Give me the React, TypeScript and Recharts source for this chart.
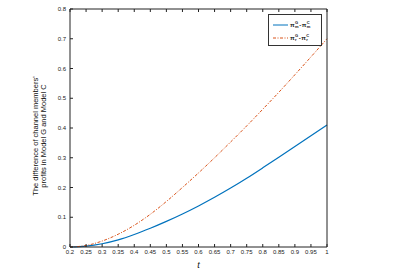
import React from 'react';
import { LineChart, Line, XAxis, YAxis } from 'recharts';

const tValues = [0.2, 0.25, 0.3, 0.35, 0.4, 0.45, 0.5, 0.55, 0.6, 0.65, 0.7, 0.75, 0.8, 0.85, 0.9, 0.95, 1];
const manufacturerDiff = [0, 0.003, 0.011, 0.024, 0.042, 0.063, 0.086, 0.111, 0.138, 0.167, 0.198, 0.231, 0.266, 0.302, 0.338, 0.374, 0.41];
const retailerDiff = [0, 0.005, 0.02, 0.043, 0.073, 0.11, 0.153, 0.2, 0.249, 0.3, 0.353, 0.407, 0.463, 0.52, 0.579, 0.639, 0.7];
const xTicks = [0.2, 0.25, 0.3, 0.35, 0.4, 0.45, 0.5, 0.55, 0.6, 0.65, 0.7, 0.75, 0.8, 0.85, 0.9, 0.95, 1];
const yTicks = [0, 0.1, 0.2, 0.3, 0.4, 0.5, 0.6, 0.7, 0.8];

const data = tValues.map((t, i) => ({ t, m: manufacturerDiff[i], r: retailerDiff[i] }));

const FONT = '"Liberation Sans", Arial, sans-serif';
const tickStyle = { fontSize: 6, fill: '#222', fontFamily: FONT };

const PiTerm = ({ sup, sub }: { sup: string; sub: string }) => (
  <span style={{ display: 'inline-flex', alignItems: 'center' }}>
    <span>π</span>
    <span style={{ display: 'inline-flex', flexDirection: 'column', fontSize: 4, lineHeight: '4px', marginLeft: 0.5 }}>
      <span>{sup}</span>
      <span>{sub}</span>
    </span>
  </span>
);

const legendRows = [
  { key: 'm', color: '#0072BD', dash: undefined },
  { key: 'r', color: '#D95319', dash: '3 1.5 1 1.5' },
];

const LegendBox = () => (
  <div style={{
    position: 'absolute', left: 268, top: 14,
    border: '1px solid #333', background: '#fff', width: 54, height: 32, boxSizing: 'border-box',
    fontFamily: FONT, fontSize: 6, fontWeight: 'bold', color: '#111', padding: '3px 0 0 4px',
  }}>
    {legendRows.map(row => (
      <div key={row.key} style={{ display: 'flex', alignItems: 'center', height: 13 }}>
        <svg width={15} height={4} style={{ marginRight: 2 }}>
          <line x1={0} y1={2} x2={15} y2={2} stroke={row.color} strokeWidth={1} strokeDasharray={row.dash} />
        </svg>
        <PiTerm sup="G" sub={row.key} />
        <span style={{ margin: '0 0.5px' }}>-</span>
        <PiTerm sup="C" sub={row.key} />
      </div>
    ))}
  </div>
);

const YLabel = (props: any) => {
  const { viewBox } = props;
  const cy = viewBox.y + viewBox.height / 2 + 8;
  return (
    <text transform={`translate(37.5, ${cy}) rotate(-90)`} textAnchor="middle" fontSize={7.5} fontFamily={FONT} fill="#111">
      <tspan x={0} dy={0}>The difference of channel members'</tspan>
      <tspan x={0} dy={8.5}>profits in Model G and  Model C</tspan>
    </text>
  );
};

export default function App() {
  return (
    <div style={{ position: 'absolute', left: 0, top: 0, width: 398, height: 272, background: '#fff' }}>
      <LineChart width={398} height={272} data={data} margin={{ top: 8, right: 70, left: 69, bottom: 24 }}>
        <XAxis
          dataKey="t" type="number" domain={[0.2, 1]} ticks={xTicks} xAxisId="b"
          height={1} tickSize={-3} tickMargin={6} tick={tickStyle}
          axisLine={{ stroke: '#222' }} tickLine={{ stroke: '#222' }} interval={0}
          label={{ value: 't', position: 'insideBottom', offset: -20, fontSize: 9, fontStyle: 'italic', fontFamily: FONT, fill: '#111' }}
        />
        <XAxis
          dataKey="t" type="number" domain={[0.2, 1]} ticks={xTicks} xAxisId="top" orientation="top"
          height={1} tickSize={-3} tickFormatter={() => ''} axisLine={{ stroke: '#222' }} tickLine={{ stroke: '#222' }} interval={0}
        />
        <YAxis
          type="number" domain={[0, 0.8]} ticks={yTicks} yAxisId="l" width={1}
          tickSize={-3} tickMargin={7} tick={tickStyle} interval={0}
          axisLine={{ stroke: '#222' }} tickLine={{ stroke: '#222' }}
          label={<YLabel />}
        />
        <YAxis
          type="number" domain={[0, 0.8]} ticks={yTicks} yAxisId="rt" orientation="right" width={1}
          tickSize={-3} tickFormatter={() => ''} interval={0}
          axisLine={{ stroke: '#222' }} tickLine={{ stroke: '#222' }}
        />
        <Line xAxisId="b" yAxisId="l" dataKey="m" type="monotone" stroke="#0072BD" strokeWidth={1.2} dot={false} isAnimationActive={false} />
        <Line xAxisId="b" yAxisId="l" dataKey="r" type="monotone" stroke="#D95319" strokeWidth={1} strokeDasharray="3 1.5 1 1.5" dot={false} isAnimationActive={false} />
      </LineChart>
      <LegendBox />
    </div>
  );
}
